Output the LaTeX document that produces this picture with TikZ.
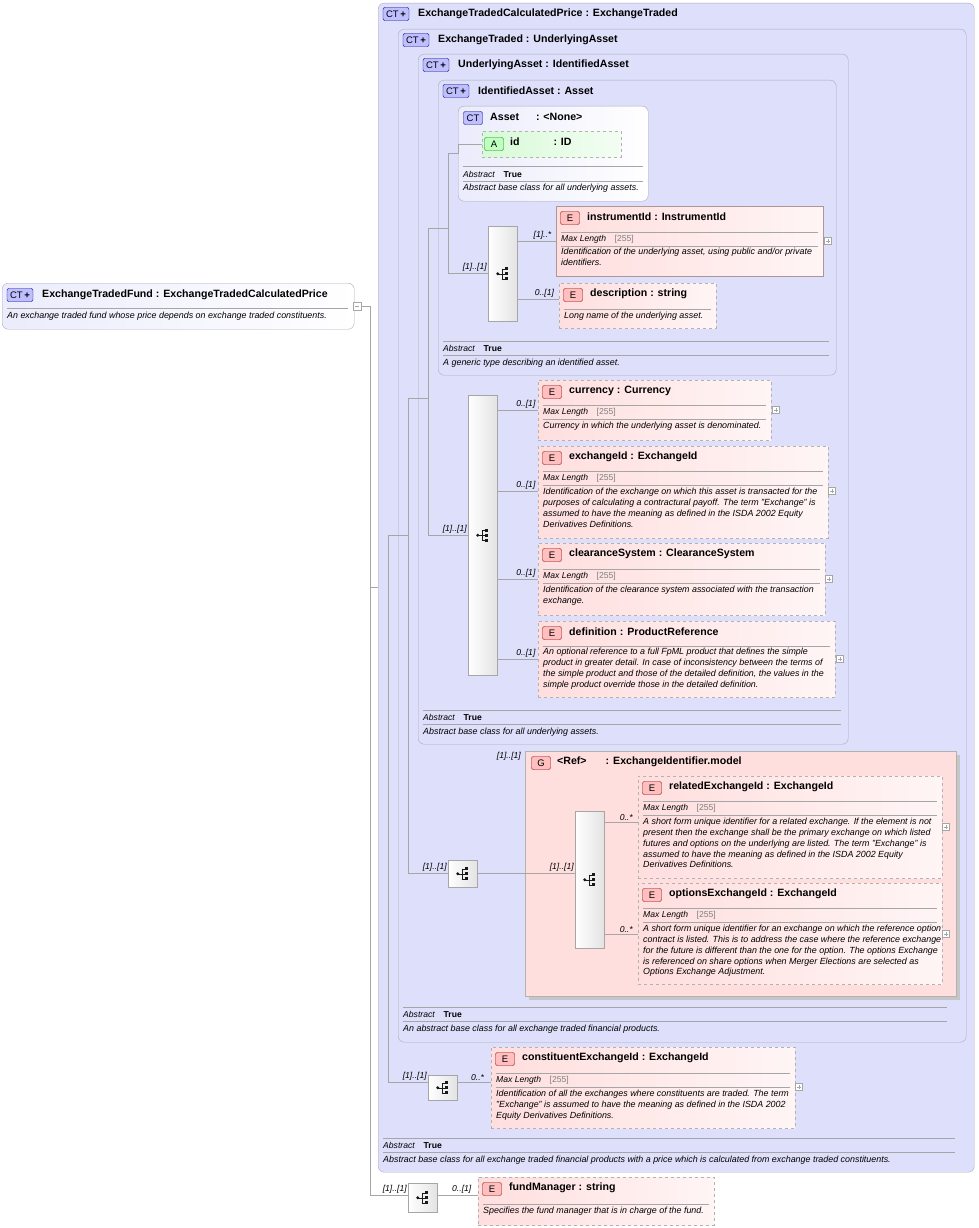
\documentclass[tikz,border=0pt]{standalone}
\usepackage{fontspec}
\setmainfont{Liberation Sans}
\usetikzlibrary{calc}
\hyphenpenalty=10000
\exhyphenpenalty=10000

\definecolor{ctfill}{RGB}{222,223,250}
\definecolor{ctline}{RGB}{170,170,190}
\definecolor{efill}{RGB}{255,222,222}
\definecolor{eline}{RGB}{175,150,150}
\definecolor{afill}{RGB}{215,250,215}

\tikzset{
  ctbox/.style={draw=ctline, fill=ctfill, rounded corners=6pt, inner sep=0pt},
  ctwhite/.style={draw=ctline, left color=ctfill!60, right color=white, rounded corners=6pt, inner sep=0pt},
  elem/.style={draw=eline, left color=efill, right color=efill!30, inner sep=0pt},
  opt/.style={dashed, draw=gray!60},
  ttl/.style={font=\fontsize{10.6}{12}\selectfont\bfseries, inner sep=0pt},
  lbl/.style={font=\fontsize{8.6}{10}\selectfont, inner sep=0pt},
  dsc/.style={font=\fontsize{8.9}{10.8}\selectfont\itshape, inner sep=0pt, align=flush left},
  mult/.style={font=\fontsize{8.6}{10}\selectfont\itshape, inner sep=1pt},
  sep/.style={draw=gray!70, line width=.5pt},
  conn/.style={draw=gray!70, line width=.6pt},
  seq/.style={draw=gray!70, left color=white, right color=gray!22, inner sep=0pt, anchor=north west},
  badge/.style={draw=#1!55!black, fill=#1!25, rounded corners=2pt, font=\fontsize{9.5}{10}\selectfont,
    inner sep=0pt, minimum width=19pt, minimum height=13pt},
}

% element box: name, x1, y1, x2, y2, style, title
\newcommand\elem[7]{%
  \node[badge=red] at (#2+14,#3+12) {E};
  \node[ttl,anchor=west] at (#2+31,#3+11) {#7};}
% max length facet
\newcommand\mlen[3]{%
  \draw[sep] (#1+5,#3) -- (#2-5,#3);
  \node[lbl,anchor=west] at (#1+5,#3+7) {\textit{Max Length}\quad\textcolor{gray}{[255]}};
  \draw[sep] (#1+5,#3+14) -- (#2-5,#3+14);}
% description: x, y, width, text
\newcommand\desc[4]{%
  \node[dsc,anchor=north west,text width=#3] at (#1+5,#2) {#4};}
% complex type footer
\newcommand\ctfoot[4]{%
  \draw[sep] (#1+5,#3) -- (#2-7,#3);
  \node[lbl,anchor=west] at (#1+5,#3+7) {\textit{Abstract}\quad\textbf{True}};
  \draw[sep] (#1+5,#3+14) -- (#2-7,#3+14);
  \node[dsc,anchor=west] at (#1+5,#3+22) {#4};}
% container title
\newcommand\cttitle[3]{%
  \node[badge=blue,minimum width=26pt] at (#1+16,#2+11) {CT\,\textbf{+}};
  \node[ttl,anchor=west] at (#1+38,#2+11) {#3};}
% sequence symbol
\newcommand\seqsym[1]{%
  \begin{scope}[shift={(#1.center)}, gray!20!black]
    \fill (-5,0) circle (1.6);
    \draw (-5,0) -- (-1,0) (-1,-5) -- (-1,5) (-1,-5) -- (3,-5) (-1,0) -- (3,0) (-1,5) -- (3,5);
    \foreach \yy in {-5,0,5} \fill (2,\yy-1.5) rectangle (5,\yy+1.5);
  \end{scope}}
% expand box
\newcommand\plusbox[2]{%
  \draw[gray!70, fill=white] (#1-3.5,#2-3.5) rectangle (#1+3.5,#2+3.5);
  \draw[gray!70] (#1-2,#2) -- (#1+2,#2) (#1,#2-2) -- (#1,#2+2);}
% element frame
\newcommand\eframe[6]{%
  \node[elem,#6,minimum width=#4-#2,minimum height=#5-#3,anchor=north west] (#1) at (#2,#3) {};}

\begin{document}
\begin{tikzpicture}[x=1pt,y=-1pt]
\useasboundingbox (0,0) rectangle (978,1228);

% root type
\node[ctwhite,minimum width=352,minimum height=46,anchor=north west] (fund) at (2,283) {};
\cttitle{4}{284}{ExchangeTradedFund : ExchangeTradedCalculatedPrice}
\draw[sep] (7,308) -- (348,308);
\node[dsc,anchor=west] at (7,316) {An exchange traded fund whose price depends on exchange traded constituents.};
\draw[gray!70, fill=white] (353,302) rectangle (361,310);
\draw[gray!70] (355,306) -- (359,306);

% nested complex types
\node[ctbox,minimum width=596,minimum height=1169,anchor=north west] (ctA) at (378,3) {};
\cttitle{380}{3}{ExchangeTradedCalculatedPrice : ExchangeTraded}
\node[ctbox,minimum width=568,minimum height=1013,anchor=north west] (ctB) at (398,29) {};
\cttitle{400}{29}{ExchangeTraded : UnderlyingAsset}
\node[ctbox,minimum width=430,minimum height=690,anchor=north west] (ctC) at (418,54) {};
\cttitle{420}{54}{UnderlyingAsset : IdentifiedAsset}
\node[ctbox,minimum width=398,minimum height=295,anchor=north west] (ctD) at (438,80) {};
\cttitle{440}{80}{IdentifiedAsset : Asset}

% Asset
\node[ctwhite,minimum width=190,minimum height=95,anchor=north west] (asset) at (458,106) {};
\node[badge=blue] at (473,118) {CT};
\node[ttl,anchor=west] at (490,117) {Asset\hspace{1.6em}: <None>};
\node[draw=gray!60, dashed, left color=afill, right color=afill!30, minimum width=139, minimum height=26, anchor=north west, inner sep=0pt] (attrid) at (482,131) {};
\node[badge=green] at (494,144) {A};
\node[ttl,anchor=west] at (510,142) {id\hspace{3.2em}: ID};
\draw[sep] (463,166) -- (643,166);
\node[lbl,anchor=west] at (463,174) {\textit{Abstract}\quad\textbf{True}};
\draw[sep] (463,181) -- (643,181);
\node[dsc,anchor=west] at (463,188) {Abstract base class for all underlying assets.};

% IdentifiedAsset sequence
\node[seq,minimum width=29,minimum height=95] (sq1) at (488,226) {};
\seqsym{sq1}
\eframe{instr}{556}{206}{823}{276}{}
\elem{instr}{556}{206}{823}{276}{}{instrumentId : InstrumentId}
\mlen{556}{823}{232}
\desc{556}{248}{262pt}{Identification of the underlying asset, using public and/or private identifiers.}
\plusbox{828}{241}
\eframe{descr}{559}{283}{716}{328}{opt}
\elem{descr}{559}{283}{716}{328}{opt}{description : string}
\draw[sep] (564,309) -- (711,309);
\desc{559}{312}{150pt}{Long name of the underlying asset.}
\draw[conn] (sq1.east |- 0,241) -- node[mult,above,pos=.65] {[1]..*} (instr.west |- 0,241);
\draw[conn] (sq1.east |- 0,299) -- node[mult,above,pos=.65] {0..[1]} (descr.west |- 0,299);
\ctfoot{438}{836}{341}{A generic type describing an identified asset.}

% UnderlyingAsset sequence
\node[seq,minimum width=29,minimum height=280] (sq2) at (468,395) {};
\seqsym{sq2}
\eframe{curr}{538}{380}{771}{440}{opt}
\elem{curr}{538}{380}{771}{440}{opt}{currency : Currency}
\mlen{538}{771}{405}
\desc{538}{422}{225pt}{Currency in which the underlying asset is denominated.}
\plusbox{776}{410}
\eframe{exch}{538}{446}{828}{538}{opt}
\elem{exch}{538}{446}{828}{538}{opt}{exchangeId : ExchangeId}
\mlen{538}{828}{471}
\desc{538}{488}{282pt}{Identification of the exchange on which this asset is transacted for the purposes of calculating a contractural payoff. The term "Exchange" is assumed to have the meaning as defined in the ISDA 2002 Equity Derivatives Definitions.}
\plusbox{832}{491}
\eframe{clear}{538}{543}{825}{615}{opt}
\elem{clear}{538}{543}{825}{615}{opt}{clearanceSystem : ClearanceSystem}
\mlen{538}{825}{569}
\desc{538}{586}{280pt}{Identification of the clearance system associated with the transaction exchange.}
\plusbox{829}{579}
\eframe{defn}{538}{621}{835}{697}{opt}
\elem{defn}{538}{621}{835}{697}{opt}{definition : ProductReference}
\draw[sep] (543,646) -- (830,646);
\desc{538}{648}{290pt}{An optional reference to a full FpML product that defines the simple product in greater detail. In case of inconsistency between the terms of the simple product and those of the detailed definition, the values in the simple product override those in the detailed definition.}
\plusbox{840}{659}
\draw[conn] (sq2.east |- 0,410) -- node[mult,above,pos=.7] {0..[1]} (curr.west |- 0,410);
\draw[conn] (sq2.east |- 0,491) -- node[mult,above,pos=.7] {0..[1]} (exch.west |- 0,491);
\draw[conn] (sq2.east |- 0,579) -- node[mult,above,pos=.7] {0..[1]} (clear.west |- 0,579);
\draw[conn] (sq2.east |- 0,659) -- node[mult,above,pos=.7] {0..[1]} (defn.west |- 0,659);
\ctfoot{418}{848}{710}{Abstract base class for all underlying assets.}

% ExchangeTraded group
\node[seq,minimum width=29,minimum height=27] (sq3) at (448,860) {};
\seqsym{sq3}
\fill[gray!45] (529,755) rectangle (960,1000);
\node[draw=gray!60, fill=efill, minimum width=431, minimum height=245, anchor=north west, inner sep=0pt] (grp) at (525,751) {};
\node[mult,anchor=south east] at (522,761) {[1]..[1]};
\node[badge=red] at (541,763) {G};
\node[ttl,anchor=west] at (557,762) {<Ref>\hspace{1.8em}: ExchangeIdentifier.model};
\node[seq,minimum width=29,minimum height=137] (sq4) at (575,811) {};
\seqsym{sq4}
\eframe{relex}{638}{776}{942}{878}{opt}
\elem{relex}{638}{776}{942}{878}{opt}{relatedExchangeId : ExchangeId}
\mlen{638}{942}{801}
\desc{638}{818}{298pt}{A short form unique identifier for a related exchange. If the element is not present then the exchange shall be the primary exchange on which listed futures and options on the underlying are listed. The term "Exchange" is assumed to have the meaning as defined in the ISDA 2002 Equity Derivatives Definitions.}
\plusbox{946}{827}
\eframe{optex}{638}{883}{942}{984}{opt}
\elem{optex}{638}{883}{942}{984}{opt}{optionsExchangeId : ExchangeId}
\mlen{638}{942}{908}
\desc{638}{925}{298pt}{A short form unique identifier for an exchange on which the reference option contract is listed. This is to address the case where the reference exchange for the future is different than the one for the option. The options Exchange is referenced on share options when Merger Elections are selected as Options Exchange Adjustment.}
\plusbox{946}{934}
\draw[conn] (sq3.east |- 0,873) -- (sq4.west |- 0,873) node[mult,above left] {[1]..[1]};
\draw[conn] (sq4.east |- 0,822) -- node[mult,above,pos=.65] {0..*} (relex.west |- 0,822);
\draw[conn] (sq4.east |- 0,934) -- node[mult,above,pos=.65] {0..*} (optex.west |- 0,934);
\ctfoot{398}{954}{1007}{An abstract base class for all exchange traded financial products.}

% ExchangeTradedCalculatedPrice sequence
\node[seq,minimum width=29,minimum height=25] (sq5) at (428,1075) {};
\seqsym{sq5}
\eframe{const}{491}{1047}{795}{1128}{opt}
\elem{const}{491}{1047}{795}{1128}{opt}{constituentExchangeId : ExchangeId}
\mlen{491}{795}{1073}
\desc{491}{1090}{294pt}{Identification of all the exchanges where constituents are traded. The term "Exchange" is assumed to have the meaning as defined in the ISDA 2002 Equity Derivatives Definitions.}
\plusbox{799}{1087}
\draw[conn] (sq5.east |- 0,1082) -- node[mult,above,pos=.6] {0..*} (const.west |- 0,1082);
\ctfoot{378}{962}{1138}{Abstract base class for all exchange traded financial products with a price which is calculated from exchange traded constituents.}

% ExchangeTradedFund sequence
\node[seq,minimum width=29,minimum height=29] (sq6) at (408,1183) {};
\seqsym{sq6}
\eframe{fman}{478}{1177}{714}{1225}{opt}
\elem{fman}{478}{1177}{714}{1225}{opt}{fundManager : string}
\draw[sep] (483,1204) -- (709,1204);
\desc{478}{1207}{228pt}{Specifies the fund manager that is in charge of the fund.}
\draw[conn] (sq6.east |- 0,1195) -- node[mult,above,pos=.6] {0..[1]} (fman.west |- 0,1195);

% tree lines
\coordinate (tA) at (370,306);
\draw[conn] (361,306) -- (tA) -- (370,1195);
\draw[conn] (370,587) -- (ctA.west |- 0,587);
\draw[conn] (370,1195) -- (sq6.west |- 0,1195) node[mult,above left] {[1]..[1]};
\draw[conn] (388,535) -- (388,1082) -- (sq5.west |- 0,1082) node[mult,above left] {[1]..[1]};
\draw[conn] (388,535) -- (408,535);
\draw[conn] (408,398) -- (408,873) -- (sq3.west |- 0,873) node[mult,above left] {[1]..[1]};
\draw[conn] (408,398) -- (428,398);
\draw[conn] (428,228) -- (428,535) -- (sq2.west |- 0,535) node[mult,above left] {[1]..[1]};
\draw[conn] (428,228) -- (448,228);
\draw[conn] (448,153) -- (448,273) -- (sq1.west |- 0,273) node[mult,above left] {[1]..[1]};
\draw[conn] (448,153) -- (458,153) -- (458,144) -- (attrid.west |- 0,144);
\end{tikzpicture}
\end{document}
